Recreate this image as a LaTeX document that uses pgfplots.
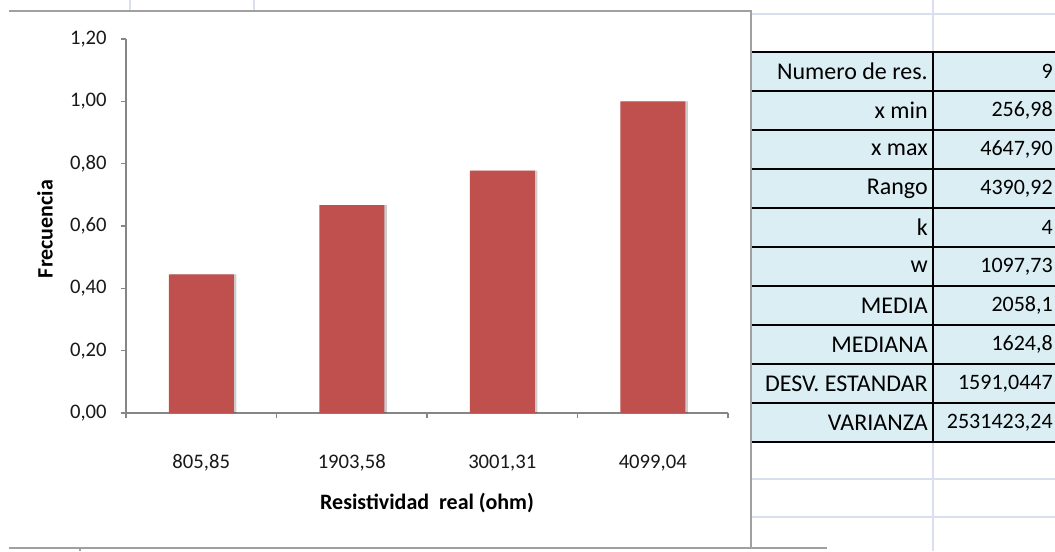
\documentclass[border=0pt]{standalone}
\usepackage{pgfplots}
\pgfplotsset{compat=1.18}
\usepackage{fontspec}
\setmainfont{Carlito}
\usetikzlibrary{shadows}
\definecolor{barred}{HTML}{C0504D}
\definecolor{axgray}{HTML}{868686}
\definecolor{cellblue}{HTML}{DAEEF3}
\definecolor{gridc}{HTML}{D9DFEC}
\definecolor{framec}{HTML}{A0A0A0}
\begin{document}
\begin{tikzpicture}
\begin{scope}[x=0.75pt,y=0.75pt]
\useasboundingbox (0,0) rectangle (1055,551);
\fill[white] (0,0) rectangle (1055,551);
% spreadsheet gridlines
\draw[gridc, line width=1.2pt] (130,551) -- (130,540);
\draw[gridc, line width=1.2pt] (254,551) -- (254,540);
\draw[gridc, line width=1.2pt] (933,551) -- (933,0);
\draw[gridc, line width=1.2pt] (752,537) -- (1055,537);
\draw[gridc, line width=1.2pt] (752,72) -- (1055,72);
\draw[gridc, line width=1.2pt] (752,34) -- (1055,34);
% table
\fill[cellblue] (752,109) rectangle (1055,499);
\foreach \i in {0,...,10} {\draw[black, line width=1.3pt] (752,{499-39*\i}) -- (1055,{499-39*\i});}
\draw[black, line width=1.3pt] (933,499) -- (933,109);
\begin{scope}[every node/.style={font=\fontsize{18}{21}\selectfont, inner sep=0pt}]
\node[anchor=east] at (928,{499-39*0.5}) {Numero de res.};
\node[anchor=east] at (928,{499-39*1.5}) {x min};
\node[anchor=east] at (928,{499-39*2.5}) {x max};
\node[anchor=east] at (928,{499-39*3.5}) {Rango};
\node[anchor=east] at (928,{499-39*4.5}) {k};
\node[anchor=east] at (928,{499-39*5.5}) {w};
\node[anchor=east] at (928,{499-39*6.5}) {MEDIA};
\node[anchor=east] at (928,{499-39*7.5}) {MEDIANA};
\node[anchor=east] at (928,{499-39*8.5}) {DESV. ESTANDAR};
\node[anchor=east] at (928,{499-39*9.5}) {VARIANZA};
\end{scope}
\begin{scope}[every node/.style={font=\fontsize{16.5}{20}\selectfont, inner sep=0pt}]
\node[anchor=east] at (1053,{499-39*0.5}) {9};
\node[anchor=east] at (1053,{499-39*1.5}) {256,98};
\node[anchor=east] at (1053,{499-39*2.5}) {4647,90};
\node[anchor=east] at (1053,{499-39*3.5}) {4390,92};
\node[anchor=east] at (1053,{499-39*4.5}) {4};
\node[anchor=east] at (1053,{499-39*5.5}) {1097,73};
\node[anchor=east] at (1053,{499-39*6.5}) {2058,1};
\node[anchor=east] at (1053,{499-39*7.5}) {1624,8};
\node[anchor=east] at (1053,{499-39*8.5}) {1591,0447};
\node[anchor=east] at (1053,{499-39*9.5}) {2531423,24};
\end{scope}
% chart frame
\fill[white] (9,3) rectangle (751,540);
\draw[framec, line width=1.3pt] (9,540) -- (751,540) -- (751,3);
\draw[framec, line width=1.3pt] (9,3) -- (827,3);
\draw[framec, line width=0.8pt] (80,3) -- (80,0);
\end{scope}
\begin{axis}[
  at={(94.5pt,103.5pt)}, anchor=south west,
  scale only axis, width=451.5pt, height=280.5pt,
  xmin=0, xmax=4, ymin=0, ymax=1.2,
  axis x line*=bottom, axis y line*=left,
  axis line style={axgray, line width=1pt, -},
  tick style={axgray, line width=1pt},
  tick align=outside, major tick length=4pt,
  xtick={0,1,2,3,4},
  xticklabels={{805,85},{1903,58},{3001,31},{4099,04}},
  x tick label as interval,
  ytick={0,0.2,0.4,0.6,0.8,1.0,1.2},
  /pgf/number format/fixed, /pgf/number format/fixed zerofill,
  /pgf/number format/precision=2, /pgf/number format/use comma,
  /pgf/number format/assume math mode=true,
  ticklabel style={font=\fontsize{15.5}{18}\selectfont, text=black!90},
  xticklabel style={yshift=-23pt, text height=11pt, text depth=3pt},
  yticklabel style={xshift=-7pt},
  xlabel={Resistividad\ \ real (ohm)},
  ylabel={Frecuencia},
  label style={font=\fontsize{16.5}{19}\selectfont\bfseries},
  xlabel style={at={(axis description cs:0.5,-0.2406)}, anchor=center},
  ylabel style={at={(axis description cs:-0.1346,0.492)}, anchor=center},
  clip=false,
]
\addplot[ybar, fill=barred, draw=none, bar width=48.75pt,
  drop shadow={shadow xshift=2pt, shadow yshift=0pt, opacity=0.2, fill=black}]
  coordinates {(0.5,0.4444) (1.5,0.6667) (2.5,0.7778) (3.5,1.0)};
\end{axis}
\end{tikzpicture}
\end{document}
